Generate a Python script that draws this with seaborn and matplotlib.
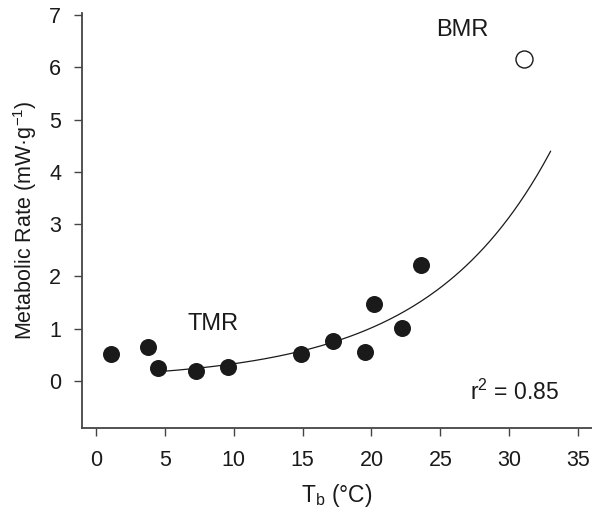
import numpy as np
import pandas as pd
import matplotlib
matplotlib.use("Agg")
import matplotlib.pyplot as plt
import seaborn as sns

# Data
tmr_tb = [1.1, 3.8, 4.5, 7.3, 9.6, 14.9, 17.2, 19.5, 20.2, 22.2, 23.6]
tmr_rate = [0.51, 0.65, 0.24, 0.20, 0.27, 0.51, 0.77, 0.55, 1.47, 1.02, 2.21]
bmr_tb = [31.1]
bmr_rate = [6.15]
# Exponential fit y = a*exp(b*x), drawn from 4.6 to 33 °C
fit_a = 0.107
fit_b = 0.1126
fit_range = [4.6, 33.0]

x_ticks = [0, 5, 10, 15, 20, 25, 30, 35]
y_ticks = [0, 1, 2, 3, 4, 5, 6, 7]

sns.set_theme(style="ticks")
plt.rcParams['font.family'] = ['Liberation Sans', 'DejaVu Sans']
plt.rcParams['mathtext.fontset'] = 'custom'
plt.rcParams['mathtext.rm'] = 'Liberation Sans'
plt.rcParams['mathtext.it'] = 'Liberation Sans'
plt.rcParams['mathtext.default'] = 'regular'

FS = 15.5
TXT = "#1a1a1a"

fig = plt.figure(figsize=(5.92, 5.17), dpi=100)
ax = fig.add_axes([0.1385, 0.172, 0.8615, 0.803])

xfit = np.linspace(fit_range[0], fit_range[1], 200)
fit_df = pd.DataFrame({"x": xfit, "y": fit_a * np.exp(fit_b * xfit)})
sns.lineplot(data=fit_df, x="x", y="y", color=TXT, linewidth=0.9, ax=ax)

tmr_df = pd.DataFrame({"x": tmr_tb, "y": tmr_rate})
sns.scatterplot(data=tmr_df, x="x", y="y", s=150, color=TXT,
                edgecolor=TXT, linewidth=0, ax=ax, zorder=3)
bmr_df = pd.DataFrame({"x": bmr_tb, "y": bmr_rate})
sns.scatterplot(data=bmr_df, x="x", y="y", s=150, facecolor="white",
                edgecolor=TXT, linewidth=1.0, ax=ax, zorder=3)

ax.set_xlim(-1.0, 36.0)
ax.set_ylim(-0.9, 7.04)
ax.set_xticks(x_ticks)
ax.set_yticks(y_ticks)
ax.tick_params(axis='both', labelsize=FS, length=6, width=1.0,
               color="#444444", labelcolor=TXT)
ax.tick_params(axis='x', pad=10)
ax.tick_params(axis='y', pad=9)
for side in ["left", "bottom"]:
    ax.spines[side].set_color("#444444")
    ax.spines[side].set_linewidth(1.3)
sns.despine(ax=ax)

ax.set_xlabel(r"T$_{b}$ (°C)", fontsize=16.5, color=TXT, labelpad=8)
ax.set_ylabel("Metabolic Rate (mW·g$^{−1}$)", fontsize=15.5, color=TXT, labelpad=7)

ax.text(26.6, 6.72, "BMR", fontsize=17, ha="center", va="center", color=TXT)
ax.text(8.5, 1.1, "TMR", fontsize=17, ha="center", va="center", color=TXT)
ax.text(33.6, -0.22, "r$^{2}$ = 0.85", fontsize=16.5, ha="right", va="center", color=TXT)

fig.savefig("out.png", dpi=100)
